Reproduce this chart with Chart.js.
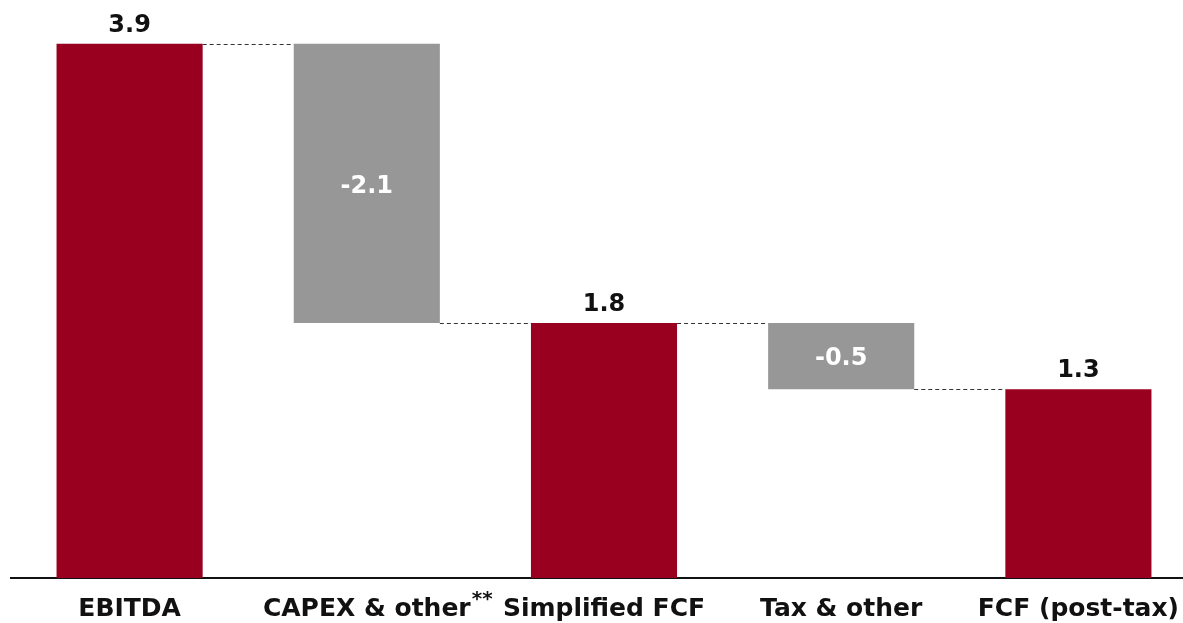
<!DOCTYPE html>
<html>
<head>
<meta charset="utf-8">
<script src="https://cdn.jsdelivr.net/npm/chart.js@4.4.1/dist/chart.umd.min.js"></script>
<style>
  html, body { margin: 0; padding: 0; background: #fff; overflow: hidden; }
  #wrap { width: 1200px; height: 640px; }
</style>
</head>
<body>
<div id="wrap"><canvas id="bridge"></canvas></div>
<script>
const categories = ["EBITDA", "CAPEX & other**", "Simplified FCF", "Tax & other", "FCF (post-tax)"];
const values = [3.9, -2.1, 1.8, -0.5, 1.3];
const isTotal = [true, false, true, false, true];

const Y_MIN = -0.12;
const Y_MAX = 4.23;
const RED = "#990020";
const GREY = "#979797";
const FONT = "'DejaVu Sans', sans-serif";
const LABEL_SIZE = 25;
const VALUE_SIZE = 24;

// build floating bars: totals start at the baseline, deltas hang off the running total
let running = 0;
const floating = [];
const levels = [];
values.forEach((v, i) => {
    if (isTotal[i]) {
        floating.push([Y_MIN, v]);
        running = v;
    } else {
        floating.push([running + v, running]);
        running = running + v;
    }
    levels.push(running);
});

const connectors = {
    id: "connectors",
    afterDatasetsDraw(chart) {
        const ctx = chart.ctx;
        const meta = chart.getDatasetMeta(0);
        const y = chart.scales.y;
        ctx.save();
        ctx.strokeStyle = "#333";
        ctx.lineWidth = 1;
        ctx.setLineDash([4, 3]);
        for (let i = 0; i < meta.data.length - 1; i++) {
            const a = meta.data[i], b = meta.data[i + 1];
            const py = Math.round(y.getPixelForValue(levels[i])) + 0.5;
            ctx.beginPath();
            ctx.moveTo(a.x + a.width / 2, py);
            ctx.lineTo(b.x - b.width / 2, py);
            ctx.stroke();
        }
        ctx.restore();
    }
};

const valueLabels = {
    id: "valueLabels",
    afterDatasetsDraw(chart) {
        const ctx = chart.ctx;
        const meta = chart.getDatasetMeta(0);
        ctx.save();
        ctx.font = "bold " + VALUE_SIZE + "px " + FONT;
        ctx.textAlign = "center";
        meta.data.forEach((bar, i) => {
            const txt = values[i].toFixed(1);
            if (isTotal[i]) {
                ctx.fillStyle = "#111";
                ctx.textBaseline = "alphabetic";
                ctx.fillText(txt, bar.x, bar.y - 12);
            } else {
                ctx.fillStyle = "#fff";
                ctx.textBaseline = "middle";
                ctx.fillText(txt, bar.x, (bar.y + bar.base) / 2 + 3);
            }
        });
        ctx.restore();
    }
};

// the "**" on a category label is drawn as a superscript
const superscript = {
    id: "superscript",
    afterDraw(chart) {
        const ctx = chart.ctx;
        const x = chart.scales.x;
        ctx.save();
        categories.forEach((c, i) => {
            if (!c.endsWith("**")) return;
            const main = c.slice(0, -2);
            ctx.font = "bold " + LABEL_SIZE + "px " + FONT;
            const w = ctx.measureText(main).width;
            const px = x.getPixelForValue(i) + w / 2 + 1;
            ctx.font = "bold 20px " + FONT;
            ctx.fillStyle = "#111";
            ctx.textAlign = "left";
            ctx.textBaseline = "alphabetic";
            ctx.fillText("**", px, 605);
        });
        ctx.restore();
    }
};

new Chart(document.getElementById("bridge"), {
    type: "bar",
    data: {
        labels: categories,
        datasets: [{
            data: floating,
            backgroundColor: isTotal.map(t => t ? RED : GREY),
            borderWidth: 0,
            categoryPercentage: 1,
            barPercentage: 0.616
        }]
    },
    options: {
        responsive: true,
        maintainAspectRatio: false,
        animation: false,
        layout: { padding: { left: 11, right: 3, top: 0, bottom: 0 } },
        plugins: { legend: { display: false }, tooltip: { enabled: false } },
        scales: {
            x: {
                grid: { display: false, drawTicks: false },
                border: { display: true, color: "#111", width: 2 },
                ticks: {
                    color: "#111",
                    padding: 16,
                    maxRotation: 0,
                    autoSkip: false,
                    font: { family: FONT, size: LABEL_SIZE, weight: "bold" },
                    callback: (v, i) => categories[i].replace("**", "")
                }
            },
            y: { display: false, min: Y_MIN, max: Y_MAX }
        }
    },
    plugins: [connectors, valueLabels, superscript]
});
</script>
</body>
</html>
